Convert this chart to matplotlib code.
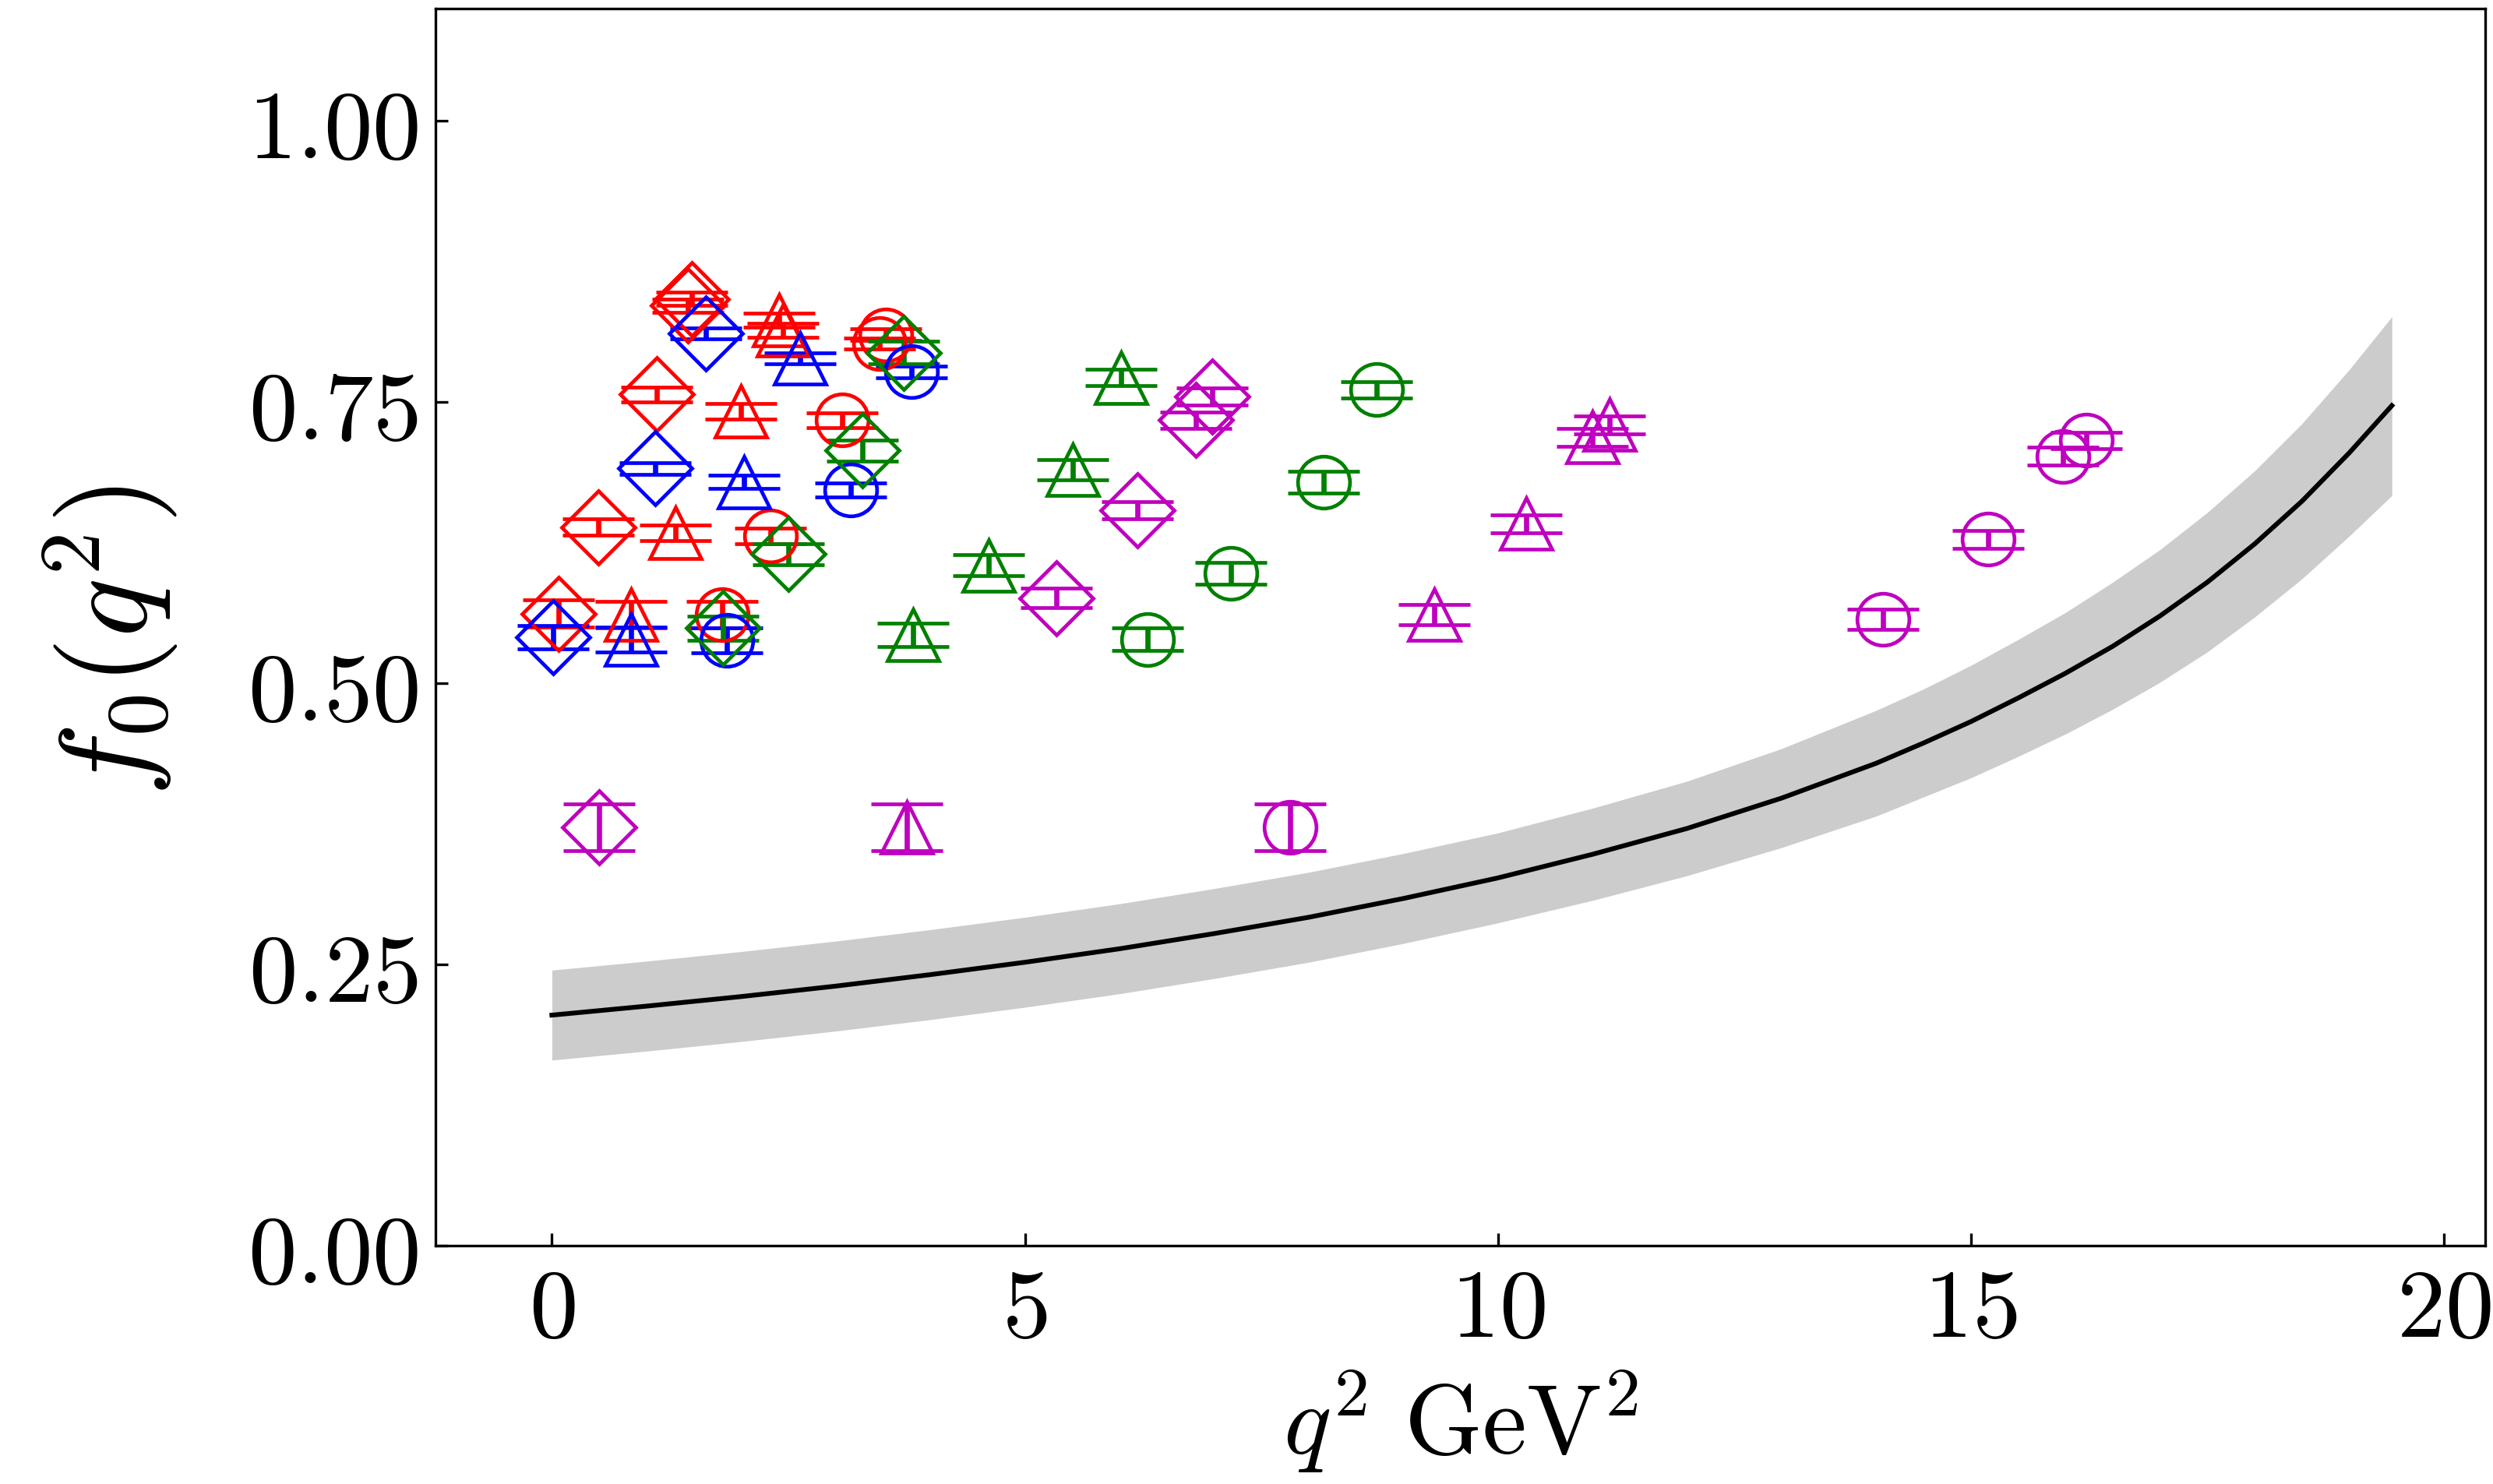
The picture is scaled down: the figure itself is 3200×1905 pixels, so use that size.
import matplotlib
matplotlib.use("Agg")
import matplotlib.pyplot as plt
from matplotlib.ticker import FuncFormatter, FixedLocator

plt.rcParams['mathtext.fontset'] = 'cm'
plt.rcParams['font.family'] = ['DejaVu Serif']

# ---- lattice data points (q^2 [GeV^2], f0, error) ----
red_D_x = [0.07, 0.49, 1.11, 1.44, 1.48]
red_D_y = [0.562, 0.639, 0.757, 0.836, 0.842]
red_D_e = [0.012, 0.007, 0.0066, 0.006, 0.006]

red_t_x = [0.84, 1.31, 2.00, 2.40, 2.44]
red_t_y = [0.561, 0.634, 0.742, 0.823, 0.814]
red_t_e = [0.012, 0.007, 0.0067, 0.006, 0.006]

red_o_x = [1.80, 2.31, 3.07, 3.46, 3.53]
red_o_y = [0.561, 0.631, 0.734, 0.802, 0.810]
red_o_e = [0.012, 0.007, 0.0068, 0.005, 0.005]

blue_D_x = [0.015, 1.09, 1.63]
blue_D_y = [0.541, 0.691, 0.811]
blue_D_e = [0.0106, 0.0055, 0.005]

blue_t_x = [0.84, 2.03, 2.62]
blue_t_y = [0.539, 0.679, 0.789]
blue_t_e = [0.011, 0.0058, 0.005]

blue_o_x = [1.85, 3.16, 3.80]
blue_o_y = [0.538, 0.672, 0.777]
blue_o_e = [0.011, 0.006, 0.005]

green_D_x = [1.81, 2.50, 3.28, 3.72]
green_D_y = [0.549, 0.615, 0.707, 0.794]
green_D_e = [0.0104, 0.0095, 0.0093, 0.010]

green_t_x = [3.82, 4.62, 5.51, 6.02]
green_t_y = [0.543, 0.605, 0.690, 0.772]
green_t_e = [0.0105, 0.0095, 0.0092, 0.007]

green_o_x = [6.30, 7.18, 8.16, 8.72]
green_o_y = [0.539, 0.598, 0.679, 0.761]
green_o_e = [0.010, 0.0096, 0.0095, 0.007]

mag_D_x = [0.50, 5.33, 6.19, 6.81, 6.98]
mag_D_y = [0.372, 0.576, 0.654, 0.734, 0.755]
mag_D_e = [0.021, 0.0087, 0.0077, 0.007, 0.0076]

mag_t_x = [3.75, 9.33, 10.30, 11.00, 11.18]
mag_t_y = [0.372, 0.561, 0.642, 0.719, 0.730]
mag_t_e = [0.021, 0.009, 0.008, 0.008, 0.008]

mag_o_x = [7.80, 14.07, 15.18, 15.97, 16.22]
mag_o_y = [0.372, 0.557, 0.628, 0.702, 0.716]
mag_o_e = [0.021, 0.009, 0.008, 0.008, 0.0072]

# ---- fit curve and band ----
fit_q2 = [0, 1, 2, 3, 4, 5, 6, 7, 8, 9, 10, 11, 12, 13, 14, 14.5, 15, 15.5, 16, 16.5,
          17, 17.5, 18, 18.5, 19, 19.45]
fit_f0 = [0.205, 0.213, 0.2215, 0.2308, 0.241, 0.252, 0.264, 0.2775, 0.292, 0.3087,
          0.327, 0.348, 0.371, 0.398, 0.429, 0.447, 0.466, 0.487, 0.509, 0.533,
          0.560, 0.590, 0.624, 0.662, 0.705, 0.747]
fit_hi = [0.245, 0.253, 0.2615, 0.2708, 0.281, 0.292, 0.304, 0.3175, 0.332, 0.3487,
          0.367, 0.389, 0.413, 0.442, 0.476, 0.495, 0.516, 0.539, 0.563, 0.590,
          0.619, 0.652, 0.689, 0.731, 0.779, 0.826]
fit_lo = [0.165, 0.173, 0.1815, 0.1908, 0.201, 0.212, 0.224, 0.2375, 0.252, 0.2687,
          0.287, 0.307, 0.329, 0.354, 0.382, 0.399, 0.416, 0.435, 0.455, 0.477,
          0.501, 0.528, 0.559, 0.593, 0.631, 0.667]

x_ticks = [0, 5, 10, 15, 20]
y_ticks = [0.0, 0.25, 0.5, 0.75, 1.0]

fig = plt.figure(figsize=(16, 9.525), dpi=200)
ax = fig.add_axes([0.1747, 0.1606, 0.8223, 0.8336])

ax.fill_between(fit_q2, fit_lo, fit_hi, color='#cccccc', linewidth=0, zorder=1)
ax.plot(fit_q2, fit_f0, color='black', lw=2.2, zorder=2)

groups = [
    (red_D_x, red_D_y, red_D_e, 'D', 'r'),
    (red_t_x, red_t_y, red_t_e, '^', 'r'),
    (red_o_x, red_o_y, red_o_e, 'o', 'r'),
    (blue_D_x, blue_D_y, blue_D_e, 'D', 'b'),
    (blue_t_x, blue_t_y, blue_t_e, '^', 'b'),
    (blue_o_x, blue_o_y, blue_o_e, 'o', 'b'),
    (green_D_x, green_D_y, green_D_e, 'D', 'g'),
    (green_t_x, green_t_y, green_t_e, '^', 'g'),
    (green_o_x, green_o_y, green_o_e, 'o', 'g'),
    (mag_D_x, mag_D_y, mag_D_e, 'D', 'm'),
    (mag_t_x, mag_t_y, mag_t_e, '^', 'm'),
    (mag_o_x, mag_o_y, mag_o_e, 'o', 'm'),
]
for xs, ys, es, mk, c in groups:
    ax.errorbar(xs, ys, yerr=es, fmt=mk, ls='none', mfc='none', mec=c, ecolor=c,
                ms=24, mew=1.7, capsize=16.5, capthick=1.7, elinewidth=2.4, zorder=3)

ax.set_xlim(-1.23, 20.44)
ax.set_ylim(0, 1.1)
ax.xaxis.set_major_locator(FixedLocator(x_ticks))
ax.yaxis.set_major_locator(FixedLocator(y_ticks))
ax.xaxis.set_major_formatter(FuncFormatter(lambda v, p: r'$%d$' % v))
ax.yaxis.set_major_formatter(FuncFormatter(lambda v, p: r'$%.2f$' % v))
ax.tick_params(direction='in', length=5.8, width=1.2, labelsize=45, pad=8,
               top=False, right=False)
for s in ax.spines.values():
    s.set_linewidth(1.2)

ax.set_xlabel(r'$q^2\ \mathrm{GeV}^2$', fontsize=46, labelpad=6)
ax.set_ylabel(r'$f_0(q^2)$', fontsize=57)
ax.yaxis.set_label_coords(-0.1247, 0.489)

fig.savefig('out.png', dpi=200)
